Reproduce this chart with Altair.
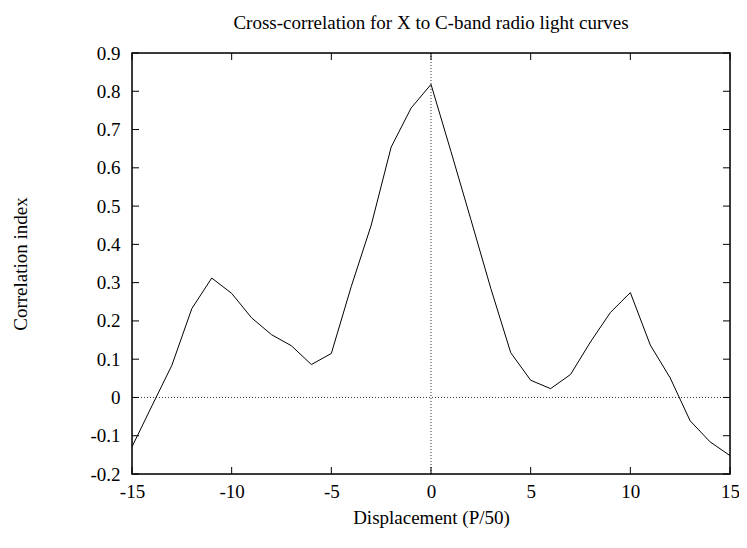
import altair as alt
import pandas as pd

displacement = list(range(-15, 16))
correlation = [-0.129, -0.022, 0.084, 0.232, 0.312, 0.272, 0.208, 0.164, 0.135, 0.086,
               0.115, 0.290, 0.450, 0.654, 0.756, 0.818, 0.643, 0.465, 0.285, 0.117,
               0.045, 0.023, 0.060, 0.145, 0.222, 0.274, 0.137, 0.051, -0.061, -0.116, -0.152]

x_ticks = [-15, -10, -5, 0, 5, 10, 15]
y_ticks = [-0.2, -0.1, 0.0, 0.1, 0.2, 0.3, 0.4, 0.5, 0.6, 0.7, 0.8, 0.9]

W, H = 598, 421
TICK = 7
FONT = "Liberation Serif"
FS = 19

df = pd.DataFrame({"x": displacement, "y": correlation})
xt = pd.DataFrame({"x": x_ticks})
yt = pd.DataFrame({"y": y_ticks})

xscale = alt.Scale(domain=[-15, 15], nice=False, zero=False)
yscale = alt.Scale(domain=[-0.2, 0.9], nice=False, zero=False)

x_axis = alt.Axis(
    values=x_ticks, ticks=False, tickSize=0, domain=False, grid=False,
    labelOverlap=False, labelFlush=False, labelBound=False,
    labelFont=FONT, labelFontSize=FS, labelColor="black", labelPadding=8,
    labelExpr="datum.value < 0 ? '-' + format(-datum.value, 'd') : format(datum.value, 'd')",
    title="Displacement (P/50)", titleFont=FONT, titleFontSize=FS, titleFontWeight="normal",
    titleColor="black", titleX=W / 2, titleY=43, titleBaseline="middle", titleAlign="center",
)
y_axis = alt.Axis(
    values=y_ticks, tickCount=12, ticks=False, tickSize=0, domain=False, grid=False,
    labelOverlap=False, labelFlush=False, labelBound=False,
    labelFont=FONT, labelFontSize=FS, labelColor="black", labelPadding=12,
    labelExpr="abs(datum.value) < 1e-9 ? '0' : (datum.value < 0 ? '-' + format(-datum.value, '.1f') : format(datum.value, '.1f'))",
    title="Correlation index", titleFont=FONT, titleFontSize=FS, titleFontWeight="normal",
    titleColor="black", titleX=-112, titleY=H / 2, titleAngle=-90,
    titleBaseline="middle", titleAlign="center",
)

X = lambda: alt.X("x:Q", scale=xscale, axis=x_axis)
Y = lambda: alt.Y("y:Q", scale=yscale, axis=y_axis)

line = alt.Chart(df).mark_line(color="black", strokeWidth=1).encode(x=X(), y=Y())

zero_h = alt.Chart(pd.DataFrame({"y": [0.0]})).mark_rule(
    color="#333333", strokeWidth=1, strokeDash=[1, 2]
).encode(y=Y(), x=alt.value(0), x2=alt.value(W))

zero_v = alt.Chart(pd.DataFrame({"x": [0.0]})).mark_rule(
    color="#333333", strokeWidth=1, strokeDash=[1, 2]
).encode(x=X(), y=alt.value(0), y2=alt.value(H))

tick_style = dict(color="black", strokeWidth=1)
xt_bottom = alt.Chart(xt).mark_rule(**tick_style).encode(
    x=X(), y=alt.value(H - TICK), y2=alt.value(H))
xt_top = alt.Chart(xt).mark_rule(**tick_style).encode(
    x=X(), y=alt.value(0), y2=alt.value(TICK))
yt_left = alt.Chart(yt).mark_rule(**tick_style).encode(
    y=Y(), x=alt.value(0), x2=alt.value(TICK))
yt_right = alt.Chart(yt).mark_rule(**tick_style).encode(
    y=Y(), x=alt.value(W - TICK), x2=alt.value(W))

frame = alt.Chart(pd.DataFrame({"a": [0]})).mark_rect(
    fill=None, fillOpacity=0, stroke="black", strokeWidth=1.5
).encode(x=alt.value(0), x2=alt.value(W), y=alt.value(0), y2=alt.value(H))

chart = alt.layer(
    line, zero_h, zero_v, xt_bottom, xt_top, yt_left, yt_right, frame
).properties(
    width=W, height=H,
    title=alt.TitleParams(
        "Cross-correlation for X to C-band radio light curves",
        font=FONT, fontSize=FS, fontWeight="normal", color="black",
        anchor="middle", offset=11,
    ),
    autosize=alt.AutoSizeParams(type="none"),
    padding={"left": 124, "top": 45, "right": 9, "bottom": 60},
).configure_view(
    stroke=None
).configure(background="white")

chart.save("out.html", embed_options={"renderer": "svg", "actions": False})
